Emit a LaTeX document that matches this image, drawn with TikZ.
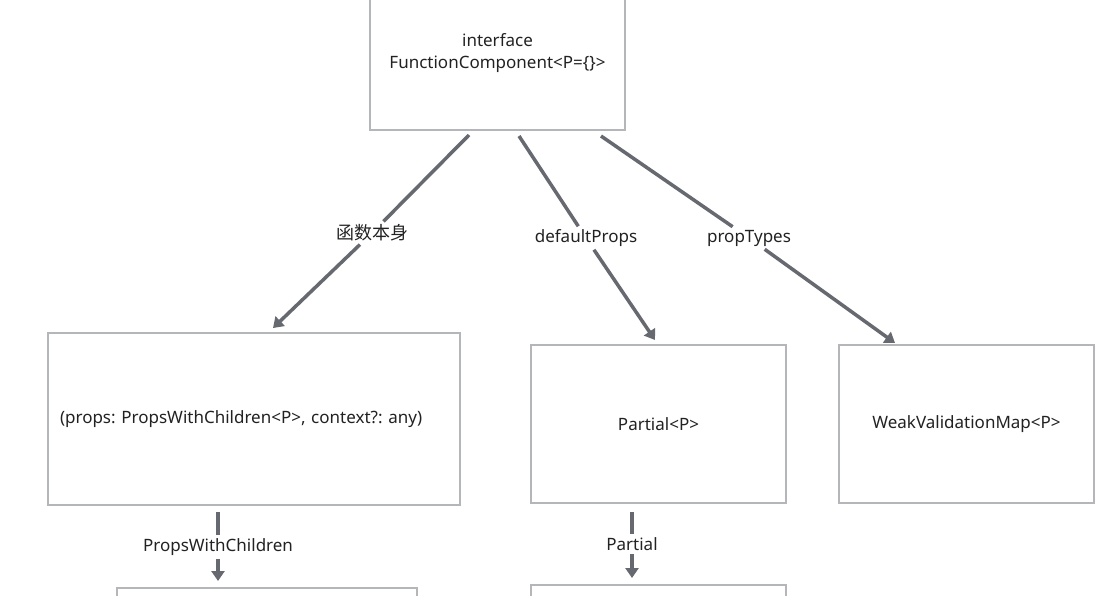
\documentclass[tikz,border=0pt]{standalone}
\usepackage{fontspec}
\setmainfont{Noto Sans}
\newfontfamily\cjk{Noto Sans CJK SC}
\usetikzlibrary{arrows.meta}
\definecolor{boxline}{HTML}{B4B6BA}
\definecolor{arrowc}{HTML}{666970}
\definecolor{txt}{HTML}{222222}
\frenchspacing
\begin{document}
\begin{tikzpicture}[x=1pt,y=-1pt,
  box/.style={draw=boxline,line width=1.3pt,fill=white,inner sep=0pt,text=txt,font=\fontsize{17}{22}\selectfont,align=center},
  lbl/.style={inner sep=3pt,text=txt,font=\fontsize{17}{20}\selectfont},
  conn/.style={draw=arrowc,line width=3.5pt},
  arr/.style={conn,-{Triangle[width=13pt,length=10pt]}}]
\useasboundingbox[fill=white] (0,0) rectangle (1110,595);
\node[box,minimum width=255pt,minimum height=154pt] (top) at (497.5,53) {interface\\FunctionComponent<P=\{\}>};
\node[box,minimum width=412pt,minimum height=172pt,text width=388pt,align=left] (fn) at (254,419) {\frenchspacing(props: PropsWithChildren<P>, context?: any)};
\node[box,minimum width=255pt,minimum height=158pt] (dp) at (658.5,424) {Partial<P>};
\node[box,minimum width=255pt,minimum height=158pt] (pt) at (966.5,424) {WeakValidationMap<P>};
\node[box,minimum width=300pt,minimum height=40pt] (pwc) at (267,608) {};
\node[box,minimum width=255pt,minimum height=40pt] (par) at (658.5,605) {};
% labels
\node[lbl,font=\fontsize{18}{20}\selectfont] (l1) at (372,233) {\cjk 函数本身};
\node[lbl] (l2) at (586,238) {defaultProps};
\node[lbl] (l3) at (749,238) {propTypes};
\node[lbl] (l4) at (218,547) {PropsWithChildren};
\node[lbl] (l5) at (632,544) {Partial};
% endpoints
\coordinate (s1) at (469,135);
\coordinate (e1) at (273,328);
\coordinate (s2) at (519,136);
\coordinate (e2) at (655,340);
\coordinate (s3) at (601,136);
\coordinate (e3) at (895,343);
\coordinate (s4) at (218,512);
\coordinate (e4) at (218,581);
\coordinate (s5) at (632,512);
\coordinate (e5) at (632,578);
\draw[conn] (s1) -- (l1); \draw[arr] (l1) -- (e1);
\draw[conn] (s2) -- (l2); \draw[arr] (l2) -- (e2);
\draw[conn] (s3) -- (l3); \draw[arr] (l3) -- (e3);
\draw[conn] (s4) -- (l4); \draw[arr] (l4) -- (e4);
\draw[conn] (s5) -- (l5); \draw[arr] (l5) -- (e5);
\end{tikzpicture}
\end{document}
